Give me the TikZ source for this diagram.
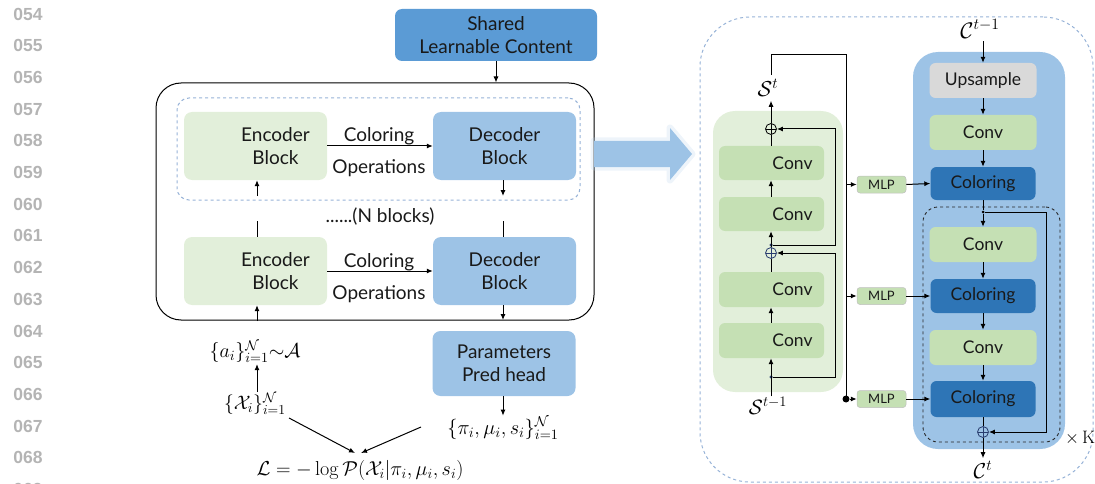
\RequirePackage{fix-cm}
\documentclass[tikz,border=0pt]{standalone}
\usepackage[no-math]{fontspec}
\setmainfont{Lato}
\newfontfamily\numfont{Liberation Sans}
\newfontfamily\lmfont{Latin Modern Roman}
\usetikzlibrary{arrows.meta}
\newcommand\mbig[2]{\scalebox{#1}{$#2$}}
\definecolor{encg}{RGB}{226,239,218}
\definecolor{decb}{RGB}{157,195,230}
\definecolor{shb}{RGB}{91,155,213}
\definecolor{convg}{RGB}{197,224,180}
\definecolor{colb}{RGB}{46,117,182}
\definecolor{upg}{RGB}{217,217,217}
\definecolor{dashb}{RGB}{150,178,215}
\definecolor{numg}{RGB}{180,180,180}
\definecolor{tcol}{RGB}{25,25,25}
\definecolor{navy}{RGB}{40,60,110}
\tikzset{
  txt/.style={font=\fontsize{19}{23}\selectfont, text=tcol, align=center, inner sep=0},
  stxt/.style={font=\fontsize{17.5}{21}\selectfont, text=tcol, align=center, inner sep=0},
  mth/.style={font=\fontsize{17}{20}\selectfont, text=black, inner sep=2},
  bigbox/.style={rounded corners=8, minimum width=143, minimum height=68, inner sep=0},
  encbox/.style={bigbox, fill=encg},
  decbox/.style={bigbox, fill=decb},
  cbox/.style={rounded corners=6, minimum width=105, minimum height=34, inner sep=0, stxt},
  convbox/.style={cbox, fill=convg},
  colbox/.style={cbox, fill=colb},
  mlpbox/.style={rounded corners=3, fill=convg, draw=black!25, line width=0.5, minimum width=49, minimum height=17, inner sep=0, font=\fontsize{13}{15}\selectfont, text=tcol},
  arr/.style={-{Latex[length=6,width=5]}, line width=1},
  ln/.style={line width=1},
  plusn/.style={circle, draw=#1, line width=0.8, minimum size=11, inner sep=0,
    path picture={\draw[#1, line width=0.8] (path picture bounding box.north) -- (path picture bounding box.south) (path picture bounding box.west) -- (path picture bounding box.east);}},
  dotn/.style={circle, fill=navy, minimum size=3.5, inner sep=0},
  num/.style={font=\numfont\bfseries\fontsize{17.5}{20}\selectfont, text=numg, inner sep=0}
}
\begin{document}
\begin{tikzpicture}[x=1pt,y=-1pt]
\useasboundingbox (0,0) rectangle (1095,484);
% line numbers
\foreach \t [count=\i from 0] in {054,055,056,057,058,059,060,061,062,063,064,065,066,067,068,069}
  \node[num] (ln\i) at (28,{14+31.7*\i}) {\t};

% ===== left part =====
\node[rounded corners=7, fill=shb, minimum width=202, minimum height=52, txt] (shared) at (496,35) {Shared\\[0pt]Learnable Content};
\node[draw=black, line width=1, rounded corners=25, minimum width=438, minimum height=237] (outer) at (375,201.5) {};
\node[draw=dashb, dashed, line width=1, rounded corners=12, minimum width=403, minimum height=102] (rep) at (378.5,149) {};
\draw[arr] (shared.south) -- (shared.south |- outer.north);

\node[encbox, label={[txt, xshift=20]center:Encoder\\Block}] (encT) at (255.5,146) {};
\node[decbox, txt] (decT) at (504.5,146) {Decoder\\Block};
\node[encbox, label={[txt, xshift=20]center:Encoder\\Block}] (encB) at (255.5,271) {};
\node[decbox, txt] (decB) at (504.5,271) {Decoder\\Block};
\draw[arr] (encT.east) -- (decT.west);
\draw[arr] (encB.east) -- (decB.west);
\node[txt] (col1t) at (379,136) {Coloring};
\node[txt] (op1t) at (379,168) {Operations};
\node[txt] (col2t) at (379,262) {Coloring};
\node[txt] (op2t) at (379,294) {Operations};
\node[txt] (nbl) at (380,217) {......(N blocks)};

\coordinate (eA) at (257,196);
\coordinate (eB) at (257,221);
\coordinate (eC) at (257,321);
\coordinate (dA) at (503,196);
\coordinate (dB) at (503,221);
\coordinate (dC) at (503,320);
\draw[arr] (eA) -- (eA |- encT.south);
\draw[ln] (eB) -- (eB |- encB.north);
\draw[arr] (eC) -- (eC |- encB.south);
\draw[arr] (dA |- decT.south) -- (dA);
\draw[ln] (dB) -- (dB |- decB.north);
\draw[arr] (dC |- decB.south) -- (dC);

\node[decbox, minimum height=65, txt] (param) at (504,363.5) {Parameters\\Pred head};
\node[mth, inner sep=1] (pset) at (503,428) {\mbig{1.2}{\{\pi_i,\mu_i,s_i\}_{i=1}^{\mathcal{N}}}};
\draw[arr] (param.south -| dC) -- (pset.north -| dC);

\node[mth, inner sep=1] (aset) at (255,352) {\mbig{1.18}{\{a_i\}_{i=1}^{\mathcal{N}}{\sim}\mathcal{A}}};
\node[mth, inner sep=1] (xset) at (255,404) {\mbig{1.15}{\{\mathcal{X}_i\}_{i=1}^{\mathcal{N}}}};
\draw[arr] (xset.north -| eC) -- (aset.south -| eC);
\node[mth, font=\fontsize{18}{21}\selectfont] (loss) at (360,470) {\mbig{1.12}{\mathcal{L}=-\log\mathcal{P}(\mathcal{X}_i|\pi_i,\mu_i,s_i)}};
\coordinate (lossA) at (355,453);
\coordinate (lossB) at (361,453);
\coordinate (xs) at (289,418);
\coordinate (ps) at (421,427);
\draw[arr] (xs) -- (lossA);
\draw[arr] (ps) -- (lossB);

% big arrow
\path[draw=decb!70, line width=7, opacity=0.25, line join=round]
  (594,141) -- (670,141) -- (670,128) -- (692,154) -- (670,180) -- (670,167) -- (594,167) -- cycle;
\fill[decb] (594,141) -- (670,141) -- (670,128) -- (692,154) -- (670,180) -- (670,167) -- (594,167) -- cycle;

% ===== right part =====
\node[draw=dashb, dashed, line width=1, rounded corners=50, minimum width=393, minimum height=465] (rbig) at (896.5,249.5) {};
\node[fill=encg, rounded corners=22, minimum width=130, minimum height=281] (encC) at (778,251.5) {};
\node[fill=decb, rounded corners=25, minimum width=152, minimum height=397] (decC) at (989,250.5) {};
\node[draw=black!85, dashed, line width=0.9, rounded corners=15, minimum width=137, minimum height=235] (kbox) at (991.5,324.5) {};

% left column
\node[convbox, label={[stxt, xshift=21]center:Conv}] (c1) at (771.5,163) {};
\node[convbox, label={[stxt, xshift=21]center:Conv}] (c2) at (771.5,214) {};
\node[convbox, minimum height=35, label={[stxt, xshift=21]center:Conv}] (c3) at (771.5,289.5) {};
\node[convbox, minimum height=35, label={[stxt, xshift=21]center:Conv}] (c4) at (771.5,340.5) {};
\node[plusn=black] (p1) at (771,129) {};
\node[plusn=navy] (p2) at (771,253) {};
\node[dotn] (d1) at (771,377) {};
\node[dotn] (d2) at (771,245) {};
\node[mth, font=\fontsize{18}{21}\selectfont, inner sep=4] (st) at (768,88) {\mbig{1.2}{\mathcal{S}^{t}}};
\node[mth, font=\fontsize{18}{21}\selectfont, inner sep=1] (st1) at (768,406) {\mbig{1.15}{\mathcal{S}^{t-1}}};

\draw[arr] (st1.north -| d1) -- (c4.south -| d1);
\draw[arr] (d1) -- (835,377) -- (835,253) -- (p2.east);
\draw[arr] (c4.north -| d1) -- (c3.south -| d1);
\draw[ln] (c3.north -| d1) -- (p2.south);
\draw[arr] (p2.north) -- (c2.south -| d1);
\draw[arr] (d2) -- (835,245) -- (835,129) -- (p1.east);
\draw[arr] (c2.north -| d1) -- (c1.south -| d1);
\draw[ln] (c1.north -| d1) -- (p1.south);
\draw[arr] (p1.north) -- (st.south -| p1);

\coordinate (tl) at (771,55);
\coordinate (tr) at (846,55);
\node[circle, fill=black, minimum size=7, inner sep=0] (bus) at (846,399) {};
\draw[ln] (st.north -| p1) -- (tl) -- (tr) -- (bus.center);

\node[mlpbox] (m1) at (881.5,184.5) {MLP};
\node[mlpbox] (m2) at (881.5,296) {MLP};
\node[mlpbox] (m3) at (881.5,399) {MLP};
\draw[arr] (m1.west -| bus) -- (m1.west);
\draw[arr] (m2.west -| bus) -- (m2.west);
\draw[arr] (bus) -- (m3.west);

% right column
\node[mth, font=\fontsize{18}{21}\selectfont, inner sep=3] (ct1) at (980,29) {\mbig{1.25}{\mathcal{C}^{t-1}}};
\node[cbox, fill=upg, minimum width=107, minimum height=35] (up) at (983,80.5) {Upsample};
\node[convbox, minimum width=107, minimum height=35] (rc1) at (983,132.5) {Conv};
\node[colbox, minimum height=33] (col1) at (983,183.5) {Coloring};
\node[dotn, fill=black, minimum size=3] (d3) at (983,212) {};
\node[convbox, minimum width=107, minimum height=35] (rc2) at (983,244.5) {Conv};
\node[colbox] (col2) at (983,296) {Coloring};
\node[convbox, minimum width=107, minimum height=35] (rc3) at (983,347.5) {Conv};
\node[colbox, minimum height=36] (col3) at (983,399) {Coloring};
\node[plusn=navy] (p3) at (983,432) {};
\node[mth, font=\fontsize{18}{21}\selectfont, inner sep=3] (ct) at (983,470) {\mbig{1.2}{\mathcal{C}^{t}}};
\node[font=\lmfont\fontsize{18}{21}\selectfont, inner sep=0] (xk) at (1080,438) {$\times$\,K};

\draw[arr] (ct1.south -| up) -- (up.north);
\draw[arr] (up.south) -- (rc1.north);
\draw[arr] (rc1.south) -- (col1.north);
\draw[ln] (col1.south) -- (d3);
\draw[arr] (d3) -- (rc2.north);
\draw[arr] (d3) -- (1046,212) -- (1046,432) -- (p3.east);
\draw[arr] (rc2.south) -- (col2.north);
\draw[arr] (col2.south) -- (rc3.north);
\draw[arr] (rc3.south) -- (col3.north);
\draw[ln] (col3.south) -- (p3.north);
\draw[arr] (p3.south) -- (ct.north -| p3);

\draw[arr] (m1.east) -- (col1.west);
\draw[arr] (m2.east) -- (col2.west);
\draw[arr] (m3.east) -- (col3.west);
\end{tikzpicture}
\end{document}
